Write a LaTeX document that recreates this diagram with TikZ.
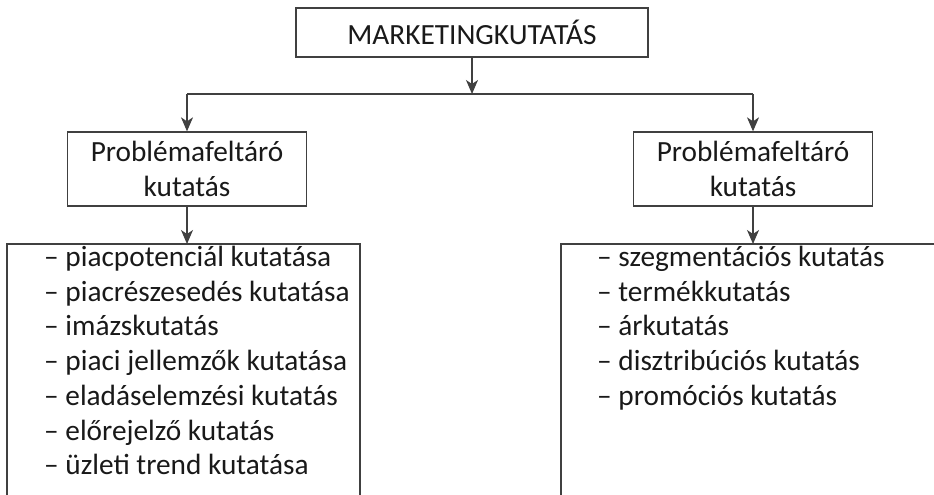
\documentclass[tikz,border=0pt]{standalone}
\usepackage{fontspec}
\setmainfont{Carlito}
\usetikzlibrary{arrows.meta}
\tikzset{
  box/.style={draw=black!75, line width=1.3pt, text=black!90, inner sep=0pt, align=center},
  wire/.style={draw=black!75, line width=1.3pt},
  arr/.style={wire, -{Stealth[length=14pt,width=12pt,inset=4pt]}},
  items/.style={text=black!90, inner sep=0pt, align=left, anchor=north west},
}

\begin{document}
\begin{tikzpicture}[x=1pt, y=-1pt, font=\fontsize{29.3}{34.7}\selectfont]
  %%%%% START %%%%%
  \useasboundingbox (0,0) rectangle (934,495);

  \node[box, minimum width=352pt, minimum height=49pt] (research) at (472,32.5) {MARKETINGKUTATÁS};
  \coordinate (branch) at (472,94);

  \node[box, minimum width=239pt, minimum height=74pt] (leftkind) at (187,169) {Problémafeltáró\\kutatás};
  \node[box, minimum width=239pt, minimum height=74pt] (rightkind) at (753,169) {Problémafeltáró\\kutatás};

  \draw[arr] (research) -- (branch);
  \draw[wire] (leftkind |- branch) -- (rightkind |- branch);
  \draw[arr] (leftkind |- branch) -- (leftkind);
  \draw[arr] (rightkind |- branch) -- (rightkind);

  % open boxes of the lists
  \coordinate (leftlist) at (7,244);
  \coordinate (rightlist) at (561,244);
  \draw[wire] (7,520) |- (360,244) -- (360,520);
  \draw[wire] (561,520) |- (945,244);
  \draw[arr] (leftkind) -- (leftkind |- leftlist);
  \draw[arr] (rightkind) -- (rightkind |- rightlist);

  \node[items] (leftitems) at (44,246) {– piacpotenciál kutatása\\– piacrészesedés kutatása\\– imázskutatás\\– piaci jellemzők kutatása\\– eladáselemzési kutatás\\– előrejelző kutatás\\– üzleti trend kutatása};
  \node[items] (rightitems) at (597,246) {– szegmentációs kutatás\\– termékkutatás\\– árkutatás\\– disztribúciós kutatás\\– promóciós kutatás};
  %%%%% END %%%%%
\end{tikzpicture}
\end{document}
